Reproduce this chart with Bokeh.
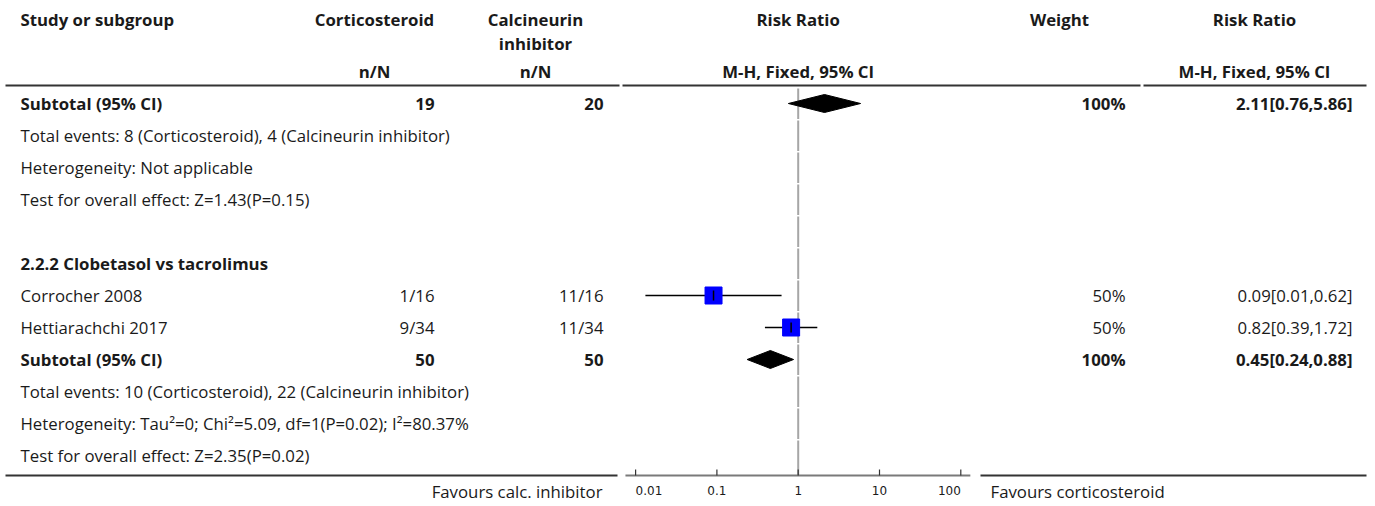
from bokeh.plotting import figure
from bokeh.models import Range1d, LogScale, ColumnDataSource
from bokeh.core.properties import value
from bokeh.embed import file_html
from bokeh.resources import INLINE

# ---- data -------------------------------------------------------------
study_names = ["Corrocher 2008", "Hettiarachchi 2017"]
cort_events = [1, 9]
cort_total = [16, 34]
cni_events = [11, 11]
cni_total = [16, 34]
study_rr = [0.0909, 0.8182]
study_lo = [0.0132, 0.3897]
study_hi = [0.6242, 1.7177]
study_weight = [50, 50]

sub_cort_total = [19, 50]
sub_cni_total = [20, 50]
sub_rr = [2.1053, 0.4545]
sub_lo = [0.7569, 0.2354]
sub_hi = [5.8552, 0.8777]
sub_weight = [100, 100]

notes_1 = ["Total events: 8 (Corticosteroid), 4 (Calcineurin inhibitor)",
           "Heterogeneity: Not applicable",
           "Test for overall effect: Z=1.43(P=0.15)"]
group_2 = "2.2.2 Clobetasol vs tacrolimus"
notes_2 = ["Total events: 10 (Corticosteroid), 22 (Calcineurin inhibitor)",
           "Heterogeneity: Tau\u00b2=0; Chi\u00b2=5.09, df=1(P=0.02); I\u00b2=80.37%",
           "Test for overall effect: Z=2.35(P=0.02)"]

tick_values = [0.01, 0.1, 1, 10, 100]
tick_labels = ["0.01", "0.1", "1", "10", "100"]
axis_bounds = [0.0075, 131.0]
favours_left = "Favours calc. inhibitor"
favours_right = "Favours corticosteroid"

# ---- layout -------------------------------------------------------------
W, H = 1375, 506
ROW0, ROWH = 103, 32          # first data row centre, row pitch
N_ROWS = 12
AXIS_Y = 475
X_ONE, X_DEC = 797.7, 81.3    # pixel of RR=1 and width of one decade
FONT = value("Open Sans")
FS = "16.8px"

X_STUDY = 20
X_CORT = 434
X_CNI = 603
X_CORT_HEAD = 374
X_CNI_HEAD = 535
X_WEIGHT = 1125
X_WEIGHT_HEAD = 1059
X_RR = 1352
X_RR_HEAD = 1254


def row_y(i):
    return ROW0 + ROWH * i


p = figure(width=W, height=H, output_backend="svg", toolbar_location=None,
           x_range=Range1d(0, W), y_range=Range1d(H, 0),
           x_axis_type=None, y_axis_type=None, min_border=0)
p.outline_line_color = None
p.grid.visible = False
p.background_fill_color = "white"
p.border_fill_color = "white"

p.extra_x_ranges = {"rr": Range1d(10 ** (-X_ONE / X_DEC), 10 ** ((W - X_ONE) / X_DEC))}
p.extra_x_scales = {"rr": LogScale()}


def txt(x, y, t, align="left", bold=False, size=FS, font=FONT, color="#1a1a1a", rng="default"):
    xs = x if isinstance(x, list) else [x]
    ts = t if isinstance(t, list) else [t]
    ys = [y] * len(xs)
    p.text(x=xs, y=ys, text=ts, text_align=align, text_baseline="middle",
           text_font=font, text_font_size=size, x_range_name=rng,
           text_font_style="bold" if bold else "normal", text_color=color)


# header
txt(X_STUDY, 19, "Study or subgroup", bold=True)
txt(X_CORT_HEAD, 19, "Corticosteroid", align="center", bold=True)
txt(X_CNI_HEAD, 19, "Calcineurin", align="center", bold=True)
txt(X_CNI_HEAD, 43, "inhibitor", align="center", bold=True)
txt(X_ONE, 19, "Risk Ratio", align="center", bold=True)
txt(X_WEIGHT_HEAD, 19, "Weight", align="center", bold=True)
txt(X_RR_HEAD, 19, "Risk Ratio", align="center", bold=True)
txt(X_CORT_HEAD, 71, "n/N", align="center", bold=True)
txt(X_CNI_HEAD, 71, "n/N", align="center", bold=True)
txt(X_ONE, 71, "M-H, Fixed, 95% CI", align="center", bold=True)
txt(X_RR_HEAD, 71, "M-H, Fixed, 95% CI", align="center", bold=True)
p.segment(x0=[5, 622, 1143], x1=[619, 1140, 1366], y0=[85] * 3, y1=[85] * 3,
          line_color="#333333", line_width=2)

# row indices
sub_rows = [0, 8]
note_rows = [[1, 2, 3], [9, 10, 11]]
study_rows = [6, 7]
group_row = 5

# reference line at RR = 1, drawn row by row
ref_y0 = [row_y(i) - ROWH / 2 + 1 for i in range(N_ROWS)]
ref_y1 = [row_y(i) + ROWH / 2 - 0.5 for i in range(N_ROWS - 1)] + [AXIS_Y]
p.segment(x0=[1] * N_ROWS, x1=[1] * N_ROWS, y0=ref_y0, y1=ref_y1, x_range_name="rr",
          line_color="#a6a6a6", line_width=2)

# subtotal rows
for k in range(2):
    y = row_y(sub_rows[k])
    txt(X_STUDY, y, "Subtotal (95% CI)", bold=True)
    txt(X_CORT, y, str(sub_cort_total[k]), align="right", bold=True)
    txt(X_CNI, y, str(sub_cni_total[k]), align="right", bold=True)
    txt(X_WEIGHT, y, f"{sub_weight[k]}%", align="right", bold=True)
    txt(X_RR, y, f"{sub_rr[k]:.2f}[{sub_lo[k]:.2f},{sub_hi[k]:.2f}]", align="right", bold=True)
    for j, r in enumerate(note_rows[k]):
        txt(X_STUDY, row_y(r), (notes_1 if k == 0 else notes_2)[j])

dsrc = ColumnDataSource(data=dict(
    xs=[[sub_lo[k], sub_rr[k], sub_hi[k], sub_rr[k]] for k in range(2)],
    ys=[[row_y(r), row_y(r) - 9, row_y(r), row_y(r) + 9] for r in sub_rows],
))
p.patches(xs="xs", ys="ys", source=dsrc, x_range_name="rr",
          fill_color="black", line_color="black", line_width=1)

# group heading
txt(X_STUDY, row_y(group_row), group_2, bold=True)

# individual studies
ys = [row_y(r) for r in study_rows]
for k in range(2):
    y = ys[k]
    txt(X_STUDY, y, study_names[k])
    txt(X_CORT, y, f"{cort_events[k]}/{cort_total[k]}", align="right")
    txt(X_CNI, y, f"{cni_events[k]}/{cni_total[k]}", align="right")
    txt(X_WEIGHT, y, f"{study_weight[k]}%", align="right")
    txt(X_RR, y, f"{study_rr[k]:.2f}[{study_lo[k]:.2f},{study_hi[k]:.2f}]", align="right")

ssrc = ColumnDataSource(data=dict(rr=study_rr, lo=study_lo, hi=study_hi, y=ys,
                                  size=[17 * (w / 50) ** 0.5 for w in study_weight],
                                  y0=[y - 5 for y in ys], y1=[y + 5 for y in ys]))
p.segment(x0="lo", x1="hi", y0="y", y1="y", source=ssrc, x_range_name="rr",
          line_color="black", line_width=1.5)
p.scatter(x="rr", y="y", size="size", marker="square", source=ssrc, x_range_name="rr",
          fill_color="#0000ff", line_color="#0000ff")
p.segment(x0="rr", x1="rr", y0="y0", y1="y1", source=ssrc, x_range_name="rr",
          line_color="black", line_width=1.5)

# bottom rules either side of the risk-ratio scale
p.segment(x0=[5, 980], x1=[617, 1366], y0=[AXIS_Y, AXIS_Y],
          y1=[AXIS_Y, AXIS_Y], line_color="#333333", line_width=2)

# risk-ratio scale (log)
p.segment(x0=[axis_bounds[0]], x1=[axis_bounds[1]], y0=[AXIS_Y], y1=[AXIS_Y],
          x_range_name="rr", line_color="#7a7a7a", line_width=2)
p.segment(x0=tick_values, x1=tick_values, y0=[AXIS_Y - 6] * len(tick_values),
          y1=[AXIS_Y] * len(tick_values), x_range_name="rr",
          line_color="#333333", line_width=1.2)
tick_font = value("DejaVu Sans")
txt(tick_values[:1], 490, tick_labels[:1], align="left", size="12px", font=tick_font, rng="rr")
txt(tick_values[1:-1], 490, tick_labels[1:-1], align="center", size="12px", font=tick_font, rng="rr")
txt(tick_values[-1:], 490, tick_labels[-1:], align="right", size="12px", font=tick_font, rng="rr")

txt(602, 491, favours_left, align="right")
txt(990, 491, favours_right)

open("out.html", "w").write(file_html(p, INLINE))
